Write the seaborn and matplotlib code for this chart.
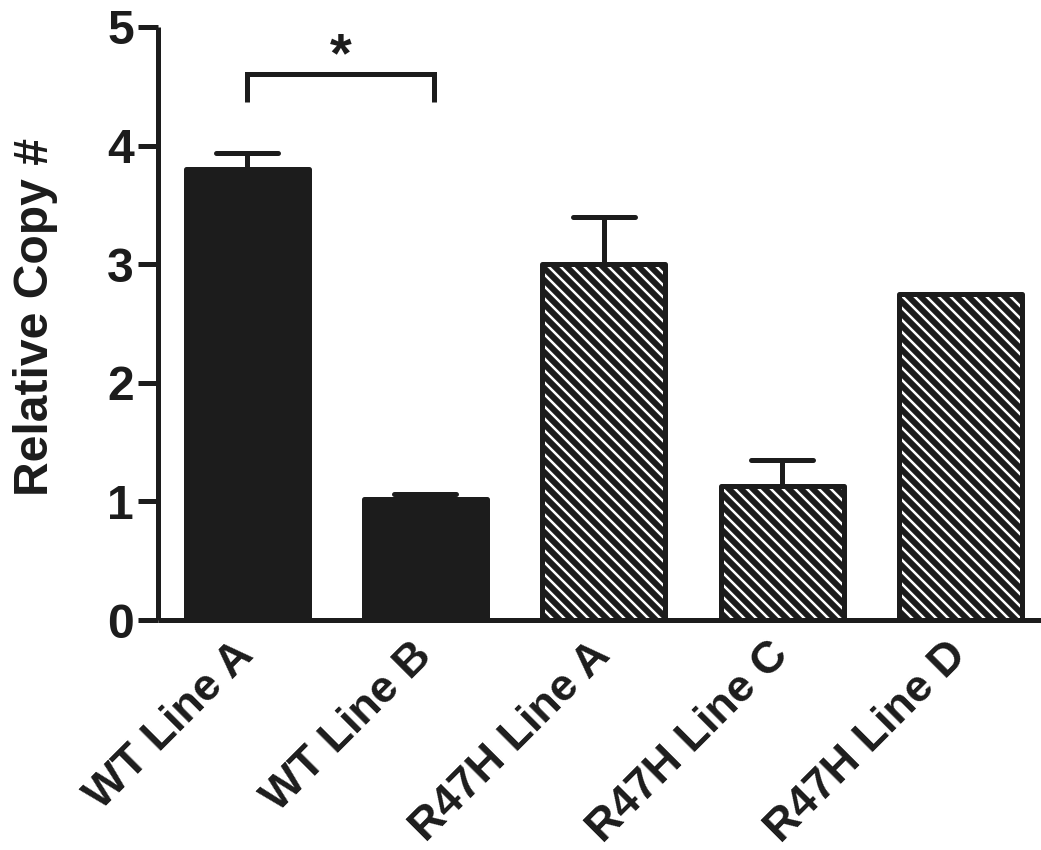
import matplotlib
matplotlib.use("Agg")
import matplotlib.pyplot as plt
import seaborn as sns
import numpy as np

# ---- data ----
categories = ["WT Line A", "WT Line B", "R47H Line A", "R47H Line C", "R47H Line D"]
values = [3.80, 1.02, 3.00, 1.13, 2.75]
errors = [0.14, 0.04, 0.40, 0.22, 0.0]
hatched = [False, False, True, True, True]
y_ticks = [0, 1, 2, 3, 4, 5]
y_label = "Relative Copy #"
sig_pair = (0, 1)
sig_text = "*"

DARK = "#1c1c1c"
DPI = 72

sns.set_theme(style="ticks")
plt.rcParams["font.family"] = ["Liberation Sans", "DejaVu Sans"]
plt.rcParams["font.weight"] = "bold"
plt.rcParams["hatch.linewidth"] = 6.0
plt.rcParams["hatch.color"] = DARK

fig = plt.figure(figsize=(1041 / DPI, 850 / DPI), dpi=DPI)
W, H = 1041, 850
ax = fig.add_axes([158 / W, (850 - 620) / H, 882.6 / W, 593 / H])

sns.barplot(x=categories, y=values, color=DARK, saturation=1, width=0.69,
            errorbar=None, ax=ax)

for patch, h in zip(ax.patches, hatched):
    patch.set_edgecolor(DARK)
    patch.set_linewidth(5)
    patch.set_joinstyle("round")
    if h:
        patch.set_facecolor("white")
        patch.set_hatch("\\\\")
    else:
        patch.set_facecolor(DARK)

# upward-only error bars
xs = np.arange(len(categories))
vals = np.array(values)
errs = np.array(errors)
mask = errs > 0
ax.vlines(xs[mask], vals[mask], vals[mask] + errs[mask], colors=DARK,
          linewidth=5, capstyle="round", zorder=1)
ax.hlines(vals[mask] + errs[mask], xs[mask] - 0.174, xs[mask] + 0.174,
          colors=DARK, linewidth=5, capstyle="round", zorder=3)

# significance bracket
x0, x1 = sig_pair[0], sig_pair[1] + 0.05
ax.plot([x0, x0, x1, x1], [4.37, 4.6, 4.6, 4.37], color=DARK, lw=5,
        solid_joinstyle="miter", solid_capstyle="butt", clip_on=False)
ax.text((x0 + x1) / 2, 4.63, sig_text, ha="center", va="baseline",
        fontsize=56, fontweight="bold", color=DARK)

ax.set_xlim(-0.5, 4.45)
ax.set_ylim(0, 5)
ax.set_yticks(y_ticks)
ax.set_yticklabels([str(t) for t in y_ticks], fontsize=48, fontweight="bold",
                   color=DARK)
ax.set_xticks(xs)
ax.set_xticklabels(categories, rotation=45, ha="right", va="center",
                   rotation_mode="anchor", fontsize=45, fontweight="bold",
                   color=DARK)
ax.tick_params(axis="x", length=0, pad=29)
ax.tick_params(axis="y", length=20, width=5, color=DARK, pad=4, direction="out")

ax.set_xlabel("")
ax.set_ylabel(y_label, fontsize=48, fontweight="bold", color=DARK)
ax.yaxis.set_label_coords((58 - 158) / 882.6, (620 - 317) / 593)

for s in ["top", "right"]:
    ax.spines[s].set_visible(False)
for s in ["left", "bottom"]:
    ax.spines[s].set_linewidth(5)
    ax.spines[s].set_color(DARK)
    ax.spines[s].set_capstyle("butt")

fig.savefig("out.png", dpi=DPI, facecolor="white")
